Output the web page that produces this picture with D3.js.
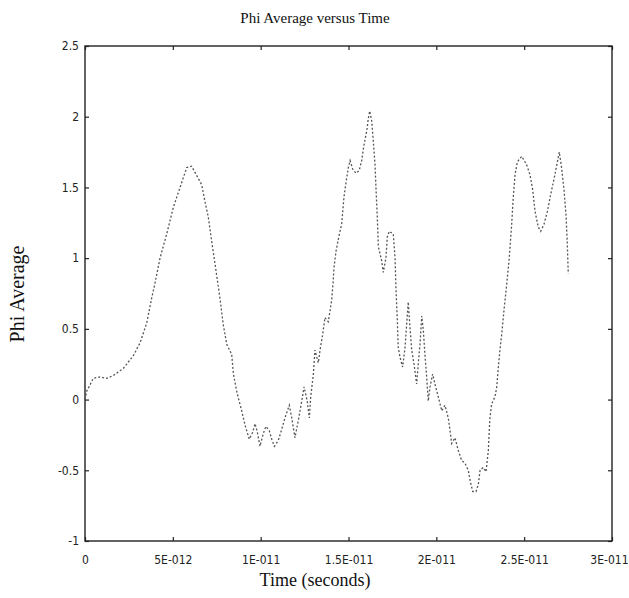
<!DOCTYPE html>
<html>
<head>
<meta charset="utf-8">
<script src="https://cdn.jsdelivr.net/npm/d3@7"></script>
<style>
  html, body { margin: 0; padding: 0; background: #fff; }
  svg { display: block; }
</style>
</head>
<body>
<svg id="chart" width="629" height="598"></svg>
<script>
// ---- Data (time in picoseconds, i.e. units of 1E-012 s) ----
const timePs = [
  0, 0.10, 0.19, 0.47, 0.85, 1.24, 1.61, 2.18, 2.75, 3.13, 3.51, 3.80, 3.98, 4.27, 4.65, 5.03, 5.41, 5.79, 6.07,
  6.64, 6.83, 7.02, 7.21, 7.40, 7.68, 7.87, 8.07, 8.35, 8.45, 8.65, 8.92, 9.11, 9.35, 9.55, 9.68, 9.81, 9.96,
  10.15, 10.30, 10.49, 10.63, 10.78, 11.00, 11.20, 11.38, 11.63, 11.77, 11.95, 12.14, 12.34, 12.47, 12.65, 12.77,
  12.85, 13.00, 13.09, 13.28, 13.38, 13.53, 13.66, 13.85, 14.04, 14.13, 14.17, 14.29, 14.48, 14.61, 14.74, 14.84,
  14.99, 15.09, 15.24, 15.43, 15.61, 15.75, 15.88, 16.04, 16.13, 16.21, 16.32, 16.41, 16.51, 16.57, 16.64, 16.70,
  16.89, 16.98, 17.13, 17.21, 17.32, 17.55, 17.65, 17.70, 17.78, 17.83, 17.93, 18.08, 18.22, 18.31, 18.40, 18.50,
  18.60, 18.73, 18.88, 18.97, 19.07, 19.17, 19.26, 19.35, 19.45, 19.54, 19.64, 19.79, 19.92, 20.11, 20.31, 20.49,
  20.68, 20.78, 20.87, 21.06, 21.25, 21.44, 21.63, 21.82, 21.92, 22.07, 22.26, 22.39, 22.49, 22.67, 22.83, 22.96,
  23.05, 23.15, 23.34, 23.44, 23.53, 23.62, 23.72, 23.85, 23.97, 24.15, 24.29, 24.38, 24.48, 24.61, 24.86, 25.14,
  25.33, 25.49, 25.62, 25.80, 25.94, 26.13, 26.32, 26.51, 26.75, 27.00, 27.13, 27.27, 27.38, 27.45, 27.51
];
const phiAverage = [
  0, 0.06, 0.08, 0.15, 0.16, 0.15, 0.17, 0.22, 0.31, 0.40, 0.54, 0.72, 0.82, 1.00, 1.17, 1.36, 1.50, 1.64, 1.65,
  1.52, 1.40, 1.29, 1.12, 0.96, 0.72, 0.53, 0.39, 0.32, 0.18, 0.05, -0.08, -0.18, -0.28, -0.23, -0.17, -0.23, -0.33,
  -0.24, -0.19, -0.22, -0.28, -0.33, -0.29, -0.21, -0.13, -0.04, -0.13, -0.27, -0.15, -0.01, 0.09, -0.01, -0.13,
  0.02, 0.18, 0.35, 0.26, 0.35, 0.46, 0.58, 0.55, 0.70, 0.84, 0.93, 1.05, 1.17, 1.24, 1.43, 1.52,
  1.64, 1.69, 1.63, 1.60, 1.62, 1.69, 1.80, 1.90, 1.99, 2.04, 1.97, 1.83, 1.66, 1.48, 1.29, 1.08,
  0.98, 0.90, 1.00, 1.15, 1.19, 1.17, 1.00, 0.79, 0.56, 0.37, 0.30, 0.23, 0.37, 0.53, 0.69, 0.51,
  0.35, 0.25, 0.11, 0.25, 0.39, 0.59, 0.49, 0.32, 0.16, -0.01, 0.09, 0.18, 0.11, 0.02, -0.08, -0.04,
  -0.13, -0.22, -0.31, -0.27, -0.36, -0.43, -0.45, -0.50, -0.57, -0.65, -0.65, -0.60, -0.50, -0.48, -0.51, -0.36,
  -0.13, -0.03, 0.02, 0.09, 0.23, 0.35, 0.46, 0.63, 0.77, 1.00, 1.24, 1.43, 1.59, 1.68, 1.72, 1.66,
  1.59, 1.48, 1.33, 1.22, 1.19, 1.24, 1.33, 1.45, 1.59, 1.75, 1.64, 1.48, 1.31, 1.12, 0.89
];
const xTickValues = [0, 5, 10, 15, 20, 25, 30];
const xTickLabels = ["0", "5E-012", "1E-011", "1.5E-011", "2E-011", "2.5E-011", "3E-011"];
const yTickValues = [-1, -0.5, 0, 0.5, 1, 1.5, 2, 2.5];
const yTickLabels = ["-1", "-0.5", "0", "0.5", "1", "1.5", "2", "2.5"];
const titleText = "Phi Average versus Time";
const xLabelText = "Time (seconds)";
const yLabelText = "Phi Average";

// ---- Layout ----
const svg = d3.select("#chart");
const mLeft = 85, mRight = 612, mTop = 46, mBottom = 541;

const x = d3.scaleLinear().domain([0, 30]).range([mLeft, mRight]);
const y = d3.scaleLinear().domain([-1, 2.5]).range([mBottom, mTop]);

const tickFont = "'Liberation Sans Narrow', 'Arial Narrow', 'DejaVu Sans Condensed', sans-serif";
const serif = "'Liberation Serif', 'Times New Roman', serif";

// Frame
svg.append("rect")
  .attr("x", mLeft).attr("y", mTop)
  .attr("width", mRight - mLeft).attr("height", mBottom - mTop)
  .attr("fill", "none").attr("stroke", "#222").attr("stroke-width", 1.4);

// Axes (ticks inward)
const xAxisBottom = d3.axisBottom(x).tickValues(xTickValues)
  .tickFormat((d, i) => xTickLabels[i]).tickSizeInner(-4).tickSizeOuter(0).tickPadding(14);
const xAxisTop = d3.axisTop(x).tickValues(xTickValues).tickFormat("").tickSizeInner(-4).tickSizeOuter(0);
const yAxisLeft = d3.axisLeft(y).tickValues(yTickValues)
  .tickFormat((d, i) => yTickLabels[i]).tickSizeInner(-4).tickSizeOuter(0).tickPadding(6);
const yAxisRight = d3.axisRight(y).tickValues(yTickValues).tickFormat("").tickSizeInner(-4).tickSizeOuter(0);

function styleAxis(g) {
  g.select(".domain").remove();
  g.selectAll(".tick line").attr("stroke", "#222").attr("stroke-width", 1.2);
  g.selectAll(".tick text").attr("fill", "#222")
    .style("font-family", tickFont).style("font-size", "12px");
}

const gxb = svg.append("g").attr("transform", `translate(0,${mBottom})`).call(xAxisBottom).call(styleAxis);
// keep the last label inside the page
gxb.selectAll(".tick text").filter((d, i) => i === xTickValues.length - 1)
  .attr("text-anchor", "end").attr("dx", "16");
svg.append("g").attr("transform", `translate(0,${mTop})`).call(xAxisTop).call(styleAxis);
svg.append("g").attr("transform", `translate(${mLeft},0)`).call(yAxisLeft).call(styleAxis);
svg.append("g").attr("transform", `translate(${mRight},0)`).call(yAxisRight).call(styleAxis);

// Data line
const data = timePs.map((t, i) => ({ t, v: phiAverage[i] }));
const line = d3.line().x(d => x(d.t)).y(d => y(d.v));
svg.append("path")
  .datum(data)
  .attr("d", line)
  .attr("fill", "none")
  .attr("stroke", "#555")
  .attr("stroke-width", 1.3)
  .attr("stroke-dasharray", "2,2");

// Titles
svg.append("text")
  .attr("x", 315).attr("y", 23)
  .attr("text-anchor", "middle")
  .style("font-family", serif).style("font-size", "15px").attr("fill", "#111")
  .text(titleText);

svg.append("text")
  .attr("x", 315).attr("y", 586)
  .attr("text-anchor", "middle")
  .style("font-family", serif).style("font-size", "18px").attr("fill", "#111")
  .text(xLabelText);

svg.append("text")
  .attr("transform", "translate(24,294) rotate(-90)")
  .attr("text-anchor", "middle")
  .style("font-family", serif).style("font-size", "20px").attr("fill", "#111")
  .text(yLabelText);
</script>
</body>
</html>
